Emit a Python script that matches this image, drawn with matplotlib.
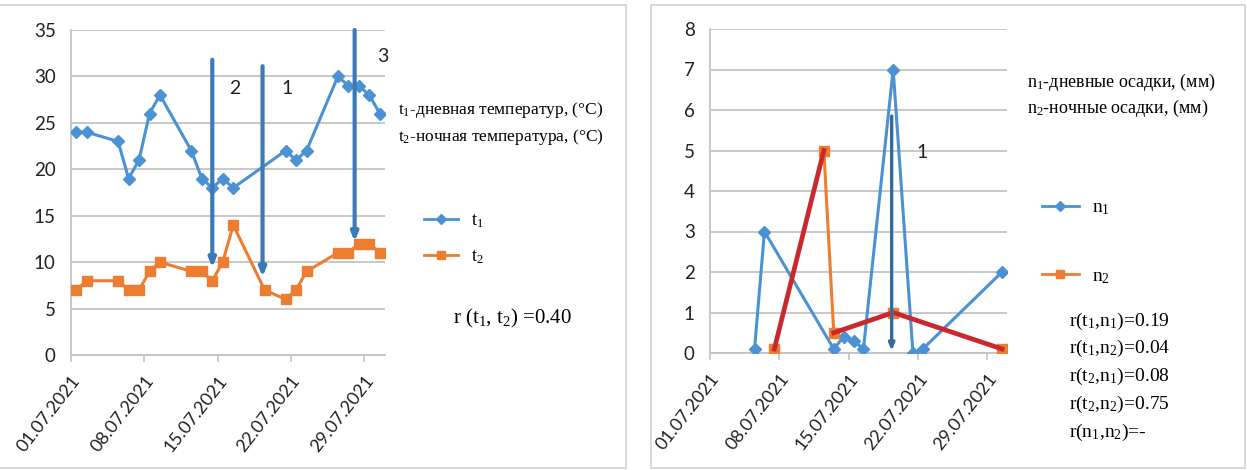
import matplotlib
matplotlib.use("Agg")
import matplotlib.pyplot as plt
from matplotlib.lines import Line2D
from matplotlib.patches import Rectangle

plt.rcParams["mathtext.fontset"] = "custom"
plt.rcParams["mathtext.rm"] = "Liberation Serif"
plt.rcParams["mathtext.it"] = "Liberation Serif:italic"

# ---- data: July 2021, day of month ----
t1_days = [1, 2, 5, 6, 7, 8, 9, 12, 13, 14, 15, 16, 21, 22, 23, 26, 27, 28, 29, 30]
t1_vals = [24, 24, 23, 19, 21, 26, 28, 22, 19, 18, 19, 18, 22, 21, 22, 30, 29, 29, 28, 26]
t2_days = [1, 2, 5, 6, 7, 8, 9, 12, 13, 14, 15, 16, 19, 21, 22, 23, 26, 27, 28, 29, 30]
t2_vals = [7, 8, 8, 7, 7, 9, 10, 9, 9, 8, 10, 14, 7, 6, 7, 9, 11, 11, 12, 12, 11]

n1_days = [5, 6, 13, 14, 15, 16, 19, 21, 22, 30]
n1_vals = [0.1, 3, 0.1, 0.4, 0.3, 0.1, 7, 0, 0.1, 2]
n2_days = [7, 12, 13, 19, 30]
n2_vals = [0.1, 5, 0.5, 1, 0.1]

tick_days = [1, 8, 15, 22, 29]
tick_labels = ["01.07.2021", "08.07.2021", "15.07.2021", "22.07.2021", "29.07.2021"]

# vertical arrows (x day, y start, y end) and their numbers
temp_arrows = [(14, 31.8, 9.4), (18.8, 31.1, 8.4), (27.6, 35, 12.2)]
temp_marks = [("2", 16.1, 28.7), ("1", 21.1, 28.7), ("3", 30.3, 32.1)]
rain_arrows = [(18.85, 5.85, 0.05)]
rain_marks = [("1", 21.9, 4.95)]

r_temp = "r (t$_1$, t$_2$) =0.40"
r_rain = ["r(t$_1$,n$_1$)=0.19", "r(t$_1$,n$_2$)=0.04", "r(t$_2$,n$_1$)=0.08",
          "r(t$_2$,n$_2$)=0.75", "r(n$_1$,n$_2$)=-"]

BLUE = "#4a92d3"
ORANGE = "#ed7d31"
RED = "#c9282d"
ARROW = "#3b7ab5"
GRID = "#c4c4c4"
TICKFONT = "Lato"
SERIF = "Liberation Serif"

W, H = 1247, 470
fig = plt.figure(figsize=(W / 100, H / 100), dpi=100)
fig.patch.set_facecolor("white")

# panel frames
for x0, x1 in [(-2, 626), (651, 1245)]:
    fig.add_artist(Rectangle((x0 / W, 1 - 468 / H), (x1 - x0) / W, (468 - 5) / H,
                             transform=fig.transFigure, fill=False,
                             edgecolor="#d2d2d2", lw=1.2))


def style_axes(ax, ymax, ystep):
    ax.set_xlim(0.5, 30.5)
    ax.set_ylim(0, ymax)
    ax.set_yticks(range(0, ymax + 1, ystep))
    ax.grid(axis="y", color=GRID, lw=1.3)
    ax.set_axisbelow(True)
    for s in ["top", "right"]:
        ax.spines[s].set_visible(False)
    for s in ["left", "bottom"]:
        ax.spines[s].set_color(GRID)
        ax.spines[s].set_linewidth(1.3)
    ax.set_xticks([d - 0.5 for d in tick_days])
    ax.set_xticklabels(tick_labels, rotation=52, ha="right", va="top",
                       rotation_mode="anchor", fontsize=13, family=TICKFONT,
                       color="#222222")
    ax.tick_params(axis="x", length=5, color=GRID, width=1.2, pad=8)
    ax.tick_params(axis="y", length=0, pad=11, labelsize=13.5,
                   labelcolor="#222222")
    for lab in ax.get_yticklabels():
        lab.set_family(TICKFONT)


# ---- temperature panel ----
ax1 = fig.add_axes([71 / W, 1 - 355 / H, 314 / W, 325 / H])
style_axes(ax1, 35, 5)
ax1.plot(t1_days, t1_vals, color=BLUE, lw=2.2, marker="D", ms=6.5, zorder=3)
ax1.plot(t2_days, t2_vals, color=ORANGE, lw=2.2, marker="s", ms=7.5, zorder=3)
for x, y0, y1 in temp_arrows:
    ax1.annotate("", xy=(x, y1), xytext=(x, y0), zorder=5,
                 arrowprops=dict(arrowstyle="-|>,head_length=0.5,head_width=0.2",
                                 color=ARROW, lw=3, shrinkA=0, shrinkB=0),
                 annotation_clip=False)
for s, x, y in temp_marks:
    ax1.text(x, y, s, fontsize=14, family=TICKFONT, ha="center", va="center",
             color="#222222", clip_on=False)

fig.legend([Line2D([], [], color=BLUE, lw=2, marker="D", ms=5),
            Line2D([], [], color=ORANGE, lw=2, marker="s", ms=6)],
           ["t$_1$", "t$_2$"], loc="upper left",
           bbox_to_anchor=(415 / W, 1 - 203 / H), frameon=False,
           prop={"family": SERIF, "size": 13}, handlelength=1.9,
           handletextpad=0.7, labelspacing=1.05, borderpad=0)

fig.text(398 / W, 1 - 110 / H, "t$_1$-дневная температур, (°C)", family=SERIF,
         fontsize=12.5, va="center")
fig.text(398 / W, 1 - 137 / H, "t$_2$-ночная температура, (°C)", family=SERIF,
         fontsize=12.5, va="center")
fig.text(453 / W, 1 - 318 / H, r_temp, family=SERIF, fontsize=15, va="center")

# ---- precipitation panel ----
ax2 = fig.add_axes([710 / W, 1 - 353 / H, 297 / W, 324 / H])
style_axes(ax2, 8, 1)
ax2.plot(n1_days, n1_vals, color=BLUE, lw=2.2, marker="D", ms=6.5, zorder=3)
ax2.plot(n2_days, n2_vals, color=ORANGE, lw=2.2, marker="s", ms=7.5, zorder=3)
ax2.plot(n2_days[:2], n2_vals[:2], color=RED, lw=3.4, zorder=4)
ax2.plot(n2_days[2:], n2_vals[2:], color=RED, lw=3.4, zorder=4)
for x, y0, y1 in rain_arrows:
    ax2.annotate("", xy=(x, y1), xytext=(x, y0), zorder=5,
                 arrowprops=dict(arrowstyle="-|>,head_length=0.4,head_width=0.16",
                                 color="#336c9c", lw=2.4, shrinkA=0, shrinkB=0),
                 annotation_clip=False)
for s, x, y in rain_marks:
    ax2.text(x, y, s, fontsize=14, family=TICKFONT, ha="center", va="center",
             color="#222222")

fig.legend([Line2D([], [], color=BLUE, lw=2, marker="D", ms=5),
            Line2D([], [], color=ORANGE, lw=2, marker="s", ms=6)],
           ["n$_1$", "n$_2$"], loc="upper left",
           bbox_to_anchor=(1032 / W, 1 - 189 / H), frameon=False,
           prop={"family": SERIF, "size": 14}, handlelength=1.9,
           handletextpad=0.7, labelspacing=2.6, borderpad=0)

fig.text(1027 / W, 1 - 82 / H, "n$_1$-дневные осадки, (мм)", family=SERIF,
         fontsize=13, va="center")
fig.text(1027 / W, 1 - 108 / H, "n$_2$-ночные осадки, (мм)", family=SERIF,
         fontsize=13, va="center")
for i, s in enumerate(r_rain):
    fig.text(1069 / W, 1 - (321 + 27.8 * i) / H, s, family=SERIF, fontsize=14,
             va="center")

fig.savefig("out.png", dpi=100, facecolor="white")
